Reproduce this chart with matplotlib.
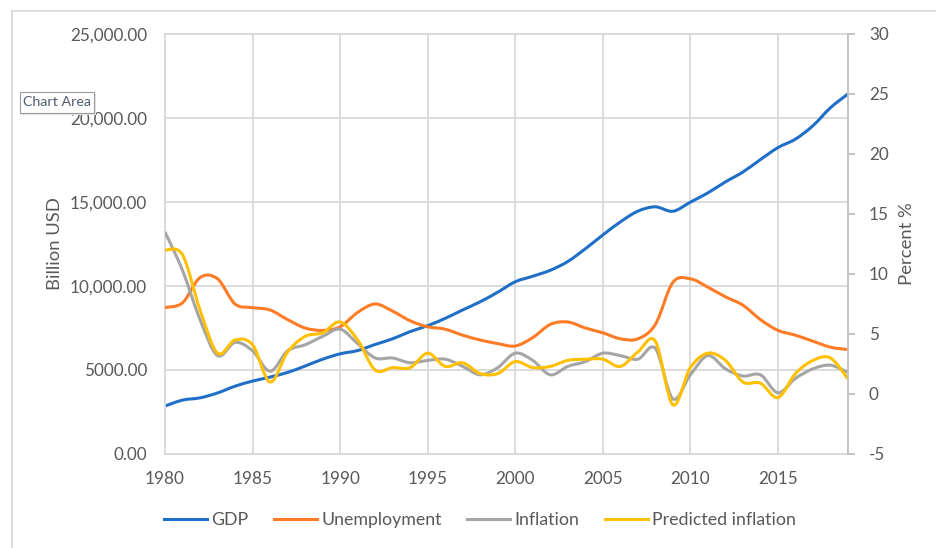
import matplotlib
matplotlib.use("Agg")
import matplotlib.pyplot as plt
from matplotlib.path import Path
from matplotlib.patches import PathPatch, Rectangle
from matplotlib.lines import Line2D
import numpy as np

plt.rcParams['font.family'] = ['Lato', 'DejaVu Sans']
plt.rcParams['axes.unicode_minus'] = False

years = list(range(1980, 2020))
gdp = [2857, 3207, 3343, 3634, 4037, 4339, 4579, 4855, 5236, 5641,
       5963, 6158, 6520, 6858, 7287, 7639, 8073, 8577, 9062, 9631,
       10252, 10582, 10936, 11458, 12214, 13037, 13815, 14452, 14713, 14449,
       14992, 15543, 16197, 16785, 17527, 18238, 18745, 19543, 20612, 21433]
unemployment = [7.2, 7.6, 9.7, 9.6, 7.5, 7.2, 7.0, 6.2, 5.5, 5.3,
                5.6, 6.8, 7.5, 6.9, 6.1, 5.6, 5.4, 4.9, 4.5, 4.2,
                4.0, 4.7, 5.8, 6.0, 5.5, 5.1, 4.6, 4.6, 5.8, 9.3,
                9.6, 8.9, 8.1, 7.4, 6.2, 5.3, 4.9, 4.4, 3.9, 3.7]
inflation = [13.5, 10.3, 6.2, 3.2, 4.3, 3.6, 1.9, 3.6, 4.1, 4.8,
             5.4, 4.2, 3.0, 3.0, 2.6, 2.8, 2.9, 2.3, 1.6, 2.2,
             3.4, 2.8, 1.6, 2.3, 2.7, 3.4, 3.2, 2.9, 3.8, -0.4,
             1.6, 3.2, 2.1, 1.5, 1.6, 0.1, 1.3, 2.1, 2.4, 1.8]
predicted = [12.0, 11.6, 7.0, 3.4, 4.5, 4.1, 1.0, 3.5, 4.8, 5.1,
             6.0, 4.5, 2.0, 2.2, 2.2, 3.4, 2.3, 2.6, 1.7, 1.7,
             2.7, 2.2, 2.3, 2.8, 2.9, 2.9, 2.3, 3.5, 4.4, -0.9,
             2.2, 3.4, 2.8, 1.0, 0.9, -0.3, 1.7, 2.8, 3.0, 1.25]

left_ticks = [0, 5000, 10000, 15000, 20000, 25000]
left_labels = ['0.00', '5000.00', '10,000.00', '15,000.00', '20,000.00', '25,000.00']
right_ticks = [-5, 0, 5, 10, 15, 20, 25, 30]
x_ticks = [1980, 1985, 1990, 1995, 2000, 2005, 2010, 2015]

c_gdp = '#1F6FC9'
c_unemp = '#FF7B26'
c_infl = '#A5A5A5'
c_pred = '#FFC000'
txt = '#595959'
grid = '#D9D9D9'


def smooth(x, y):
    # excel-like smoothed line: bezier segments through the data points
    n = len(x)
    verts = [(x[0], y[0])]
    codes = [Path.MOVETO]
    for i in range(n - 1):
        a = max(i - 1, 0)
        b = min(i + 2, n - 1)
        c1 = (x[i] + (x[i + 1] - x[a]) / 6, y[i] + (y[i + 1] - y[a]) / 6)
        c2 = (x[i + 1] - (x[b] - x[i]) / 6, y[i + 1] - (y[b] - y[i]) / 6)
        verts += [c1, c2, (x[i + 1], y[i + 1])]
        codes += [Path.CURVE4] * 3
    return Path(verts, codes)


fig = plt.figure(figsize=(9.36, 5.48), dpi=100)
ax = fig.add_axes([165 / 936, 1 - 454 / 548, (848 - 165) / 936, (454 - 34) / 548])
ax2 = ax.twinx()

ax.set_xlim(1980, 2019)
ax.set_ylim(0, 25000)
ax2.set_ylim(-5, 30)

ax.set_xticks(x_ticks)
ax.set_yticks(left_ticks)
ax.set_yticklabels(left_labels)
ax2.set_yticks(right_ticks)
ax.grid(True, color=grid, lw=1.3)
ax.set_axisbelow(True)

ax.add_patch(PathPatch(smooth(years, gdp), fc='none', ec=c_gdp, lw=2.2))
ax2.add_patch(PathPatch(smooth(years, unemployment), fc='none', ec=c_unemp, lw=2.2))
ax2.add_patch(PathPatch(smooth(years, inflation), fc='none', ec=c_infl, lw=2.2))
ax2.add_patch(PathPatch(smooth(years, predicted), fc='none', ec=c_pred, lw=2.2))

for s in ['left', 'top', 'bottom']:
    ax.spines[s].set_color(grid)
    ax.spines[s].set_linewidth(1.3)
ax.spines['right'].set_visible(False)
for s in ['left', 'top', 'bottom']:
    ax2.spines[s].set_visible(False)
ax2.spines['right'].set_color('#BFBFBF')
ax2.spines['right'].set_linewidth(1.3)

ax.tick_params(axis='both', length=0, labelsize=12.3, labelcolor=txt)
ax.tick_params(axis='y', pad=13)
ax.tick_params(axis='x', pad=12)
ax2.tick_params(axis='y', length=5, width=1.3, color='#BFBFBF', labelsize=12.3,
                labelcolor=txt, pad=10)

ax.set_ylabel('Billion USD', fontsize=13.3, color=txt, labelpad=5)
ax2.set_ylabel('Percent %', fontsize=13.3, color=txt, labelpad=7)

handles = [Line2D([], [], color=c, lw=2.2) for c in [c_gdp, c_unemp, c_infl, c_pred]]
fig.legend(handles, ['GDP', 'Unemployment', 'Inflation', 'Predicted inflation'],
           loc='center', bbox_to_anchor=(480 / 936, 1 - 520 / 548), ncol=4,
           frameon=False, fontsize=12.8, labelcolor=txt, handlelength=2.4,
           handletextpad=0.25, columnspacing=1.45)

# chart area border
fig.add_artist(Line2D([12 / 936, 12 / 936], [0, 1 - 10.5 / 548], color=grid, lw=1.3))
fig.add_artist(Line2D([12 / 936, 1], [1 - 10.5 / 548, 1 - 10.5 / 548], color=grid, lw=1.3))

# "Chart Area" tooltip
fig.add_artist(Rectangle((22 / 936, 1 - 115 / 548), 74 / 936, 21 / 548,
                         fc='#E6E6E6', ec='none'))
fig.add_artist(Rectangle((20 / 936, 1 - 113 / 548), 74 / 936, 21 / 548,
                         fc='white', ec='#9A9A9A', lw=0.8))
fig.text(57 / 936, 1 - 102.5 / 548, 'Chart Area', fontsize=10.3, color='#4F5D6E',
         ha='center', va='center')

fig.savefig('out.png', dpi=100)
